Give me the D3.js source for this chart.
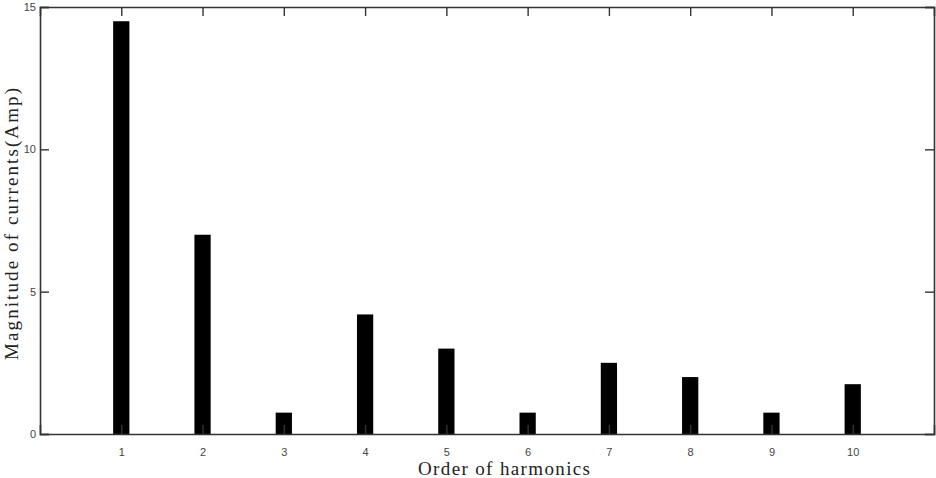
<!DOCTYPE html>
<html><head><meta charset="utf-8">
<script src="https://cdn.jsdelivr.net/npm/d3@7"></script>
<style>body{margin:0;background:#fff;}svg{display:block;}</style>
</head><body>
<script>
const categories = [1,2,3,4,5,6,7,8,9,10];
const values = [14.5, 7.0, 0.75, 4.2, 3.0, 0.75, 2.5, 2.0, 0.75, 1.75];
const yTicks = [0,5,10,15];
const xLabel = "Order of harmonics";
const yLabel = "Magnitude of currents(Amp)";

const W=936,H=478;
const m={l:40,r:2,t:7,b:44};
const svg=d3.select("body").append("svg").attr("width",W).attr("height",H);
const x=d3.scaleLinear().domain([0,11]).range([m.l,W-m.r]);
const y=d3.scaleLinear().domain([0,15]).range([H-m.b,m.t]);
const bw=x(0.2)-x(0);

svg.append("g").selectAll("rect").data(categories).join("rect")
  .attr("x",(d)=>x(d)-bw/2).attr("width",bw)
  .attr("y",(d,i)=>y(values[i])).attr("height",(d,i)=>y(0)-y(values[i]))
  .attr("fill","#000");

const tickLen=9;
const frame="#333";
const xb=svg.append("g").attr("transform",`translate(0,${y(0)})`)
  .call(d3.axisBottom(x).tickValues(categories).tickSize(-tickLen).tickPadding(14).tickFormat(d3.format("d")));
const xt=svg.append("g").attr("transform",`translate(0,${y(15)})`)
  .call(d3.axisTop(x).tickValues(categories).tickSize(-tickLen).tickFormat(""));
const yl=svg.append("g").attr("transform",`translate(${x(0)},0)`)
  .call(d3.axisLeft(y).tickValues(yTicks).tickSize(-tickLen).tickPadding(4));
const yr=svg.append("g").attr("transform",`translate(${x(11)},0)`)
  .call(d3.axisRight(y).tickValues(yTicks).tickSize(-tickLen).tickFormat(""));
[xb,xt,yl,yr].forEach(g=>{
  g.select(".domain").attr("stroke",frame).attr("stroke-width",1.6);
  g.selectAll(".tick line").attr("stroke",frame).attr("stroke-width",1.4);
  g.selectAll(".tick text").attr("fill","#444").style("font-family","Arial, 'Liberation Sans', sans-serif").style("font-size","11px");
});

svg.append("text").attr("x",504).attr("y",475).attr("text-anchor","middle")
  .attr("textLength",172).attr("lengthAdjust","spacing")
  .style("font-family","'Liberation Serif','Times New Roman',serif").style("font-size","19px").attr("fill","#222")
  .text(xLabel);
svg.append("text").attr("transform","translate(18,224) rotate(-90)").attr("text-anchor","middle")
  .attr("textLength",272).attr("lengthAdjust","spacing")
  .style("font-family","'Liberation Serif','Times New Roman',serif").style("font-size","19px").attr("fill","#222")
  .text(yLabel);
</script>
</body></html>
